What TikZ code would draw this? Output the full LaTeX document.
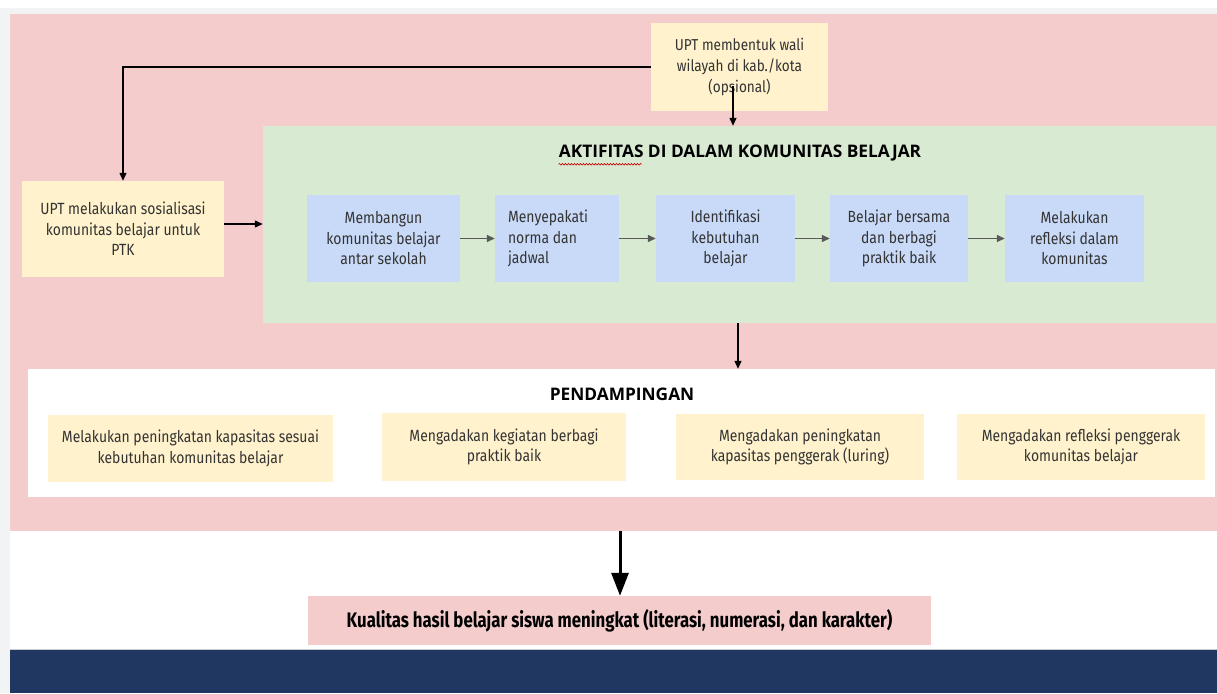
\documentclass[tikz,border=0pt]{standalone}
\usepackage{fontspec}
\setmainfont{Fira Sans}[FakeStretch=0.86]
\newfontfamily\headfont{Open Sans}
\newfontfamily\finalfont{Fira Sans}[FakeStretch=0.8]
\usetikzlibrary{arrows.meta,decorations.pathmorphing,calc}
\definecolor{pinkbg}{HTML}{F4CCCC}
\definecolor{greenbg}{HTML}{D9EAD3}
\definecolor{bluebx}{HTML}{C9DAF8}
\definecolor{yellowbx}{HTML}{FFF2CC}
\definecolor{navy}{HTML}{1F3761}
\definecolor{txt}{HTML}{333333}
\definecolor{garr}{HTML}{595959}
\definecolor{edgegray}{HTML}{F1F3F4}
\tikzset{
  box/.style={rectangle, inner sep=0pt, align=center, text=txt,
    font=\fontsize{16.2}{20.5}\selectfont},
  bluebox/.style={box, fill=bluebx},
  yelbox/.style={box, fill=yellowbx},
  arr/.style={-{Triangle[length=8pt,width=7pt]}, line width=1.3pt, black},
  garrow/.style={-{Triangle[length=8pt,width=7pt]}, line width=1.4pt, garr},
  bigarr/.style={-{Triangle[length=23pt,width=17pt]}, line width=3pt, black},
  heading/.style={font=\headfont\bfseries\fontsize{17.3}{20}\selectfont, text=black, inner sep=0pt}
}
\begin{document}
\begin{tikzpicture}[x=1pt,y=-1pt]
\useasboundingbox (0,0) rectangle (1217,693);
% backgrounds
\fill[white] (0,0) rectangle (1217,693);
\fill[edgegray] (0,8) rectangle (1217,693);
\fill[pinkbg] (10,14) rectangle (1217,531);
\fill[white] (10,531) rectangle (1217,649);
\fill[navy] (10,650) rectangle (1217,693);
\draw[gray!40, line width=0.8pt] (10,649.5) -- (1217,649.5);

% containers
\node[rectangle, fill=greenbg, minimum width=953pt, minimum height=197pt, inner sep=0pt] (green) at (739.5,224.5) {};
\node[rectangle, fill=white, minimum width=1187pt, minimum height=128pt, inner sep=0pt] (white) at (621.5,433) {};

% titles
\node[heading] (t1) at (740,153) {AKTIFITAS DI DALAM KOMUNITAS BELAJAR};
\draw[red!80!black, line width=0.6pt, decorate, decoration={snake, amplitude=0.8pt, segment length=3pt}]
  ($(t1.south west)+(0,3)$) -- ($(t1.south west)+(83,3)$);
\node[heading] (t2) at (622,394) {PENDAMPINGAN};

% top boxes
\node[yelbox, minimum width=177pt, minimum height=88pt, font=\fontsize{15.8}{21}\selectfont] (top) at (739.5,67)
  {UPT membentuk wali\\wilayah di kab./kota\\(opsional)};
\node[yelbox, minimum width=202pt, minimum height=96pt] (left) at (123,229)
  {UPT melakukan sosialisasi\\komunitas belajar untuk\\PTK};

% blue step boxes
\node[bluebox, minimum width=153pt, minimum height=87pt] (b1) at (383.5,238.5) {Membangun\\komunitas belajar\\antar sekolah};
\node[bluebox, minimum width=124pt, minimum height=87pt, align=left] (b2) at (557,238.5)
  {\makebox[98pt][l]{Menyepakati}\\norma dan\\jadwal};
\node[bluebox, minimum width=139pt, minimum height=87pt] (b3) at (725.5,238.5) {Identifikasi\\kebutuhan\\belajar};
\node[bluebox, minimum width=138pt, minimum height=87pt] (b4) at (899,238.5) {Belajar bersama\\dan berbagi\\praktik baik};
\node[bluebox, minimum width=139pt, minimum height=87pt] (b5) at (1074.5,238.5) {Melakukan\\refleksi dalam\\komunitas};

% yellow pendampingan boxes
\node[yelbox, minimum width=285pt, minimum height=67pt] (y1) at (190.5,448.5) {Melakukan peningkatan kapasitas sesuai\\kebutuhan komunitas belajar};
\node[yelbox, minimum width=244pt, minimum height=68pt] (y2) at (504,447) {Mengadakan kegiatan berbagi\\praktik baik};
\node[yelbox, minimum width=248pt, minimum height=66pt] (y3) at (800,447) {Mengadakan peningkatan\\kapasitas penggerak (luring)};
\node[yelbox, minimum width=248pt, minimum height=66pt] (y4) at (1081,447) {Mengadakan refleksi penggerak\\komunitas belajar};

% final box
\node[box, fill=pinkbg, minimum width=623pt, minimum height=49pt, text=black,
  font=\finalfont\bfseries\fontsize{21}{22}\selectfont] (final) at (619.5,620.5)
  {Kualitas hasil belajar siswa meningkat (literasi, numerasi, dan karakter)};

% connectors
\coordinate (topin) at (733,86);
\coordinate (pinkbot) at (620,531);
\coordinate (leftout) at (224,224);
\coordinate (gs) at (738,323);
\draw[arr] (top.west) -| (left.north);
\draw[arr] (topin) -- (topin |- green.north);
\draw[arr] (leftout) -- (leftout -| green.west);
\draw[garrow] (b1.east) -- (b2.west);
\draw[garrow] (b2.east) -- (b3.west);
\draw[garrow] (b3.east) -- (b4.west);
\draw[garrow] (b4.east) -- (b5.west);
\draw[arr] (gs) -- (gs |- white.north);
\draw[bigarr] (pinkbot) -- (pinkbot |- final.north);
\end{tikzpicture}
\end{document}
